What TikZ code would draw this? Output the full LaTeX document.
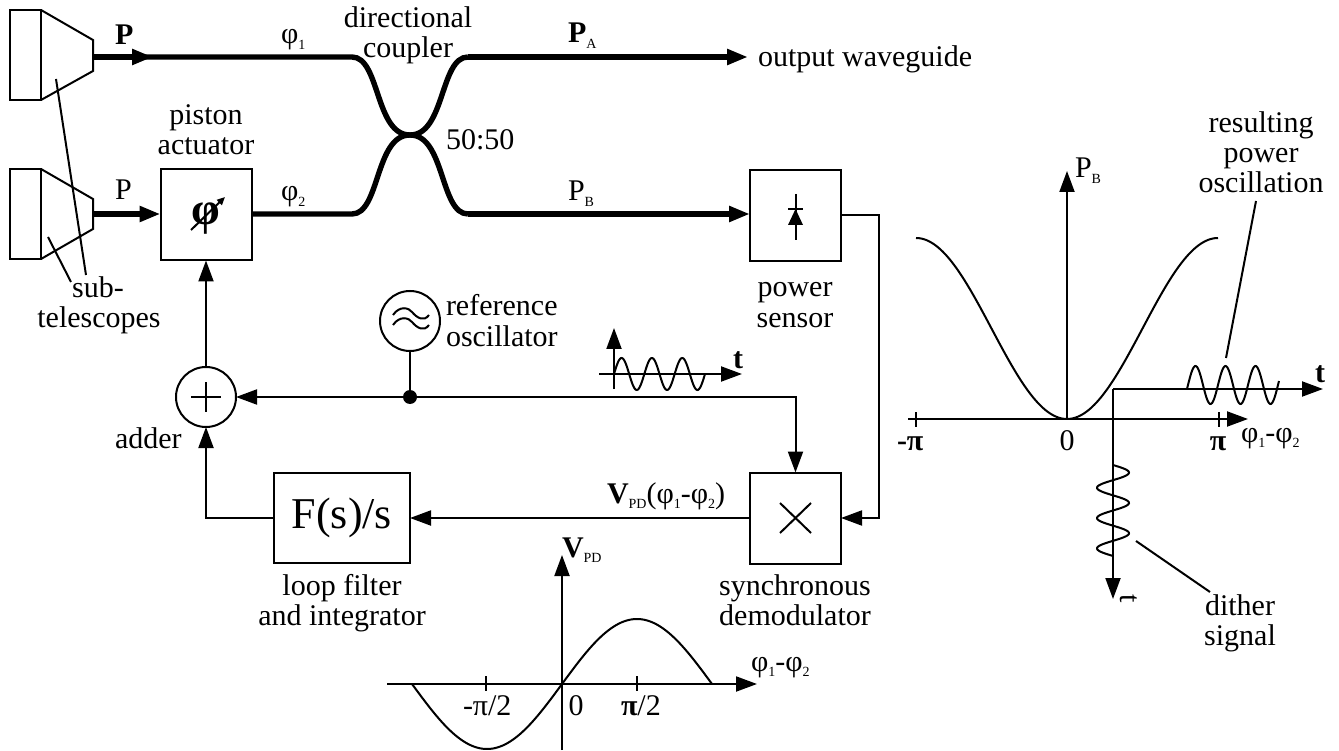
\documentclass[tikz,border=0pt]{standalone}
\usepackage{fontspec}
\setmainfont{Liberation Serif}
\usetikzlibrary{arrows.meta}
\newcommand{\subs}[1]{\raisebox{-5.5pt}{\fontsize{14}{14}\selectfont\mdseries #1}}
\tikzset{
  thinl/.style={line width=2pt},
  thickl/.style={line width=5.4pt},
  arr/.style={-{Triangle[length=21pt,width=15pt]}},
  block/.style={draw,line width=2pt,minimum width=91pt,minimum height=91pt,inner sep=0pt,outer sep=0pt},
  circ/.style={draw,circle,line width=2pt,minimum size=60pt,inner sep=0pt,outer sep=0pt},
  txt/.style={inner sep=0pt,outer sep=0pt,font=\fontsize{30}{30}\selectfont},
  ctxt/.style={txt,align=center,anchor=base},
  ltxt/.style={txt,anchor=base west},
  tele/.style={line width=2pt,line join=miter},
  dotn/.style={circle,fill=black,minimum size=14pt,inner sep=0pt,outer sep=0pt}
}
\begin{document}
\begin{tikzpicture}[x=1pt,y=-1pt,line cap=butt]
\useasboundingbox (0,0) rectangle (1339,751);
% telescopes
\draw[tele] (10,10) rectangle (41,100);
\draw[tele] (41,10) -- (93,40) -- (93,71) -- (41,100);
\draw[tele] (10,169) rectangle (41,259);
\draw[tele] (41,169) -- (93,199) -- (93,229) -- (41,259);
\coordinate (t1) at (93,57);
\coordinate (t2) at (93,214);
\coordinate (t1m) at (153,57);
\coordinate (lu) at (352,57);
\coordinate (ld) at (352,214);
\coordinate (ru) at (468,57);
\coordinate (rd) at (468,214);
\coordinate (mid) at (410,135);
\coordinate (outw) at (748,57);
% blocks
\node[block] (act) at (206,215) {};
\node[block] (sens) at (795.5,215.5) {};
\node[block] (demod) at (795.5,518) {};
\node[block,minimum width=136pt,minimum height=90pt,font=\fontsize{44}{44}\selectfont] (filt) at (342,518) {F(s)/s};
\node[circ] (add) at (206,397) {};
\node[circ] (osc) at (410,321) {};
\node[dotn] (junc) at (410,397) {};
% thick guides
\draw[thickl] (t1) -- (lu) .. controls (380,57) and (375,135) .. (mid) .. controls (445,135) and (440,214) .. (rd);
\draw[thickl,arr] (t1) -- (t1m);
\draw[thickl,arr] (rd) -- (rd-|sens.west);
\draw[thickl] (act.east|-ld) -- (ld) .. controls (380,214) and (375,135) .. (mid) .. controls (445,135) and (440,57) .. (ru);
\draw[thickl,arr] (ru) -- (outw);
\draw[thickl,arr] (t2) -- (t2-|act.west);
% thin connectors
\draw[thinl,arr] (add.north) -- (act.south);
\draw[thinl,arr] (junc) -- (add.east);
\draw[thinl] (osc.south) -- (junc);
\coordinate (dtop) at (demod.north|-junc);
\draw[thinl,arr] (junc) -- (dtop) -- (demod.north);
\coordinate (sr) at (879,215.5);
\coordinate (sb) at (879,518);
\draw[thinl,arr] (sens.east) -- (sr) -- (sb) -- (demod.east);
\draw[thinl,arr] (demod.west) -- (filt.east);
\coordinate (fl) at (206,518);
\draw[thinl,arr] (filt.west) -- (fl) -- (add.south);
% adder plus, cross
\draw[thinl] (191,397) -- (221,397) (206,382) -- (206,412);
\draw[thinl] (780,503) -- (811,533) (780,533) -- (811,503);
% oscillator symbol
\draw[thinl] (393,315) .. controls (400,305) and (409,308) .. (412,312) .. controls (417,318) and (424,322) .. (429,315);
\draw[thinl] (393,325) .. controls (400,315) and (409,318) .. (412,322) .. controls (417,328) and (424,332) .. (429,325);
% photodiode
\draw[thinl] (795.5,194) -- (795.5,240) (788,209) -- (803,209);
\fill (795.5,209) -- (803,225) -- (788,225) -- cycle;
% phi symbol in actuator
\node[inner sep=0pt,font=\fontsize{46}{46}\selectfont\bfseries] (phi) at (206,219) {φ};
\draw[thinl,-{Triangle[length=8pt,width=7pt]}] (191,230) -- (225,197);
% leader lines
\coordinate (l1a) at (56,79); \coordinate (l1b) at (86,275);
\coordinate (l2a) at (48,237); \coordinate (l2b) at (71,282);
\draw[thinl] (l1a) -- (l1b) (l2a) -- (l2b);
% text
\node[ltxt,font=\fontsize{30}{30}\selectfont\bfseries] (pa) at (115,45) {P};
\node[ltxt] (pb) at (115,200) {P};
\node[ltxt] (f1) at (281,44) {φ\subs{1}};
\node[ltxt] (f2) at (281,201) {φ\subs{2}};
\node[ctxt] (dc1) at (408,28) {directional};
\node[ctxt] (dc2) at (408,58) {coupler};
\node[ltxt] (rat) at (446,150) {50:50};
\node[ltxt,font=\fontsize{30}{30}\selectfont\bfseries] (PA) at (568,43) {P\subs{A}};
\node[ltxt] (PB) at (568,201) {P\subs{B}};
\node[ltxt] (ow) at (758,67) {output waveguide};
\node[ctxt] (pi1) at (206,125) {piston};
\node[ctxt] (pi2) at (206,155) {actuator};
\node[ctxt] (su1) at (98,298) {sub-};
\node[ctxt] (su2) at (99,328) {telescopes};
\node[ltxt] (re1) at (446,316) {reference};
\node[ltxt] (re2) at (446,347) {oscillator};
\node[ctxt] (po1) at (795,297) {power};
\node[ctxt] (po2) at (795,328) {sensor};
\node[ltxt] (adr) at (115,448) {adder};
\node[ltxt] (vp) at (607,503) {\textbf{V}\subs{PD}(φ\subs{1}-φ\subs{2})};
\node[ctxt] (lf1) at (342,595) {loop filter};
\node[ctxt] (lf2) at (342,625) {and integrator};
\node[ctxt] (sy1) at (795,595) {synchronous};
\node[ctxt] (sy2) at (795,625) {demodulator};
% small dither plot
\coordinate (sa) at (599,374); \coordinate (sae) at (742,374);
\coordinate (sv) at (614,389); \coordinate (sve) at (614,328);
\draw[thinl,arr] (sa) -- (sae);
\draw[thinl,arr] (sv) -- (sve);
\draw[thinl] plot[domain=0:1080,samples=120,smooth] ({614+\x/1080*91},{374-16*sin(\x)});
\node[ltxt,font=\fontsize{30}{30}\selectfont\bfseries] (st) at (733,369) {t};
% lower plot
\coordinate (la) at (387,684); \coordinate (lae) at (757,684);
\coordinate (lv) at (562,750); \coordinate (lve) at (562,555);
\draw[thinl,arr] (la) -- (lae);
\draw[thinl,arr] (lv) -- (lve);
\draw[thinl] (486,676) -- (486,691) (637,676) -- (637,691);
\draw[thinl] plot[domain=-180:180,samples=120,smooth] ({562+\x/180*150},{684-65*sin(\x)});
\node[ltxt] (vv) at (562,557) {\textbf{V}\subs{PD}};
\node[ltxt] (lf) at (751,671) {φ\subs{1}-φ\subs{2}};
\node[ltxt] (mp) at (463,715) {-π/2};
\node[ctxt] (z1) at (576,715) {0};
\node[ltxt] (pp) at (621,715) {\textbf{π}/2};
% right plot
\coordinate (ra) at (908,419); \coordinate (rae) at (1248,419);
\coordinate (rv) at (1067,419); \coordinate (rve) at (1067,171);
\draw[thinl,arr] (ra) -- (rae);
\draw[thinl,arr] (rv) -- (rve);
\draw[thinl] (916,412) -- (916,427) (1219,412) -- (1219,427);
\draw[thinl] plot[domain=-180:180,samples=160,smooth] ({1067+\x/180*151},{419-181*(1-cos(\x))/2});
\coordinate (rp) at (1113,389); \coordinate (rpe) at (1323,389); \coordinate (rpd) at (1113,599);
\draw[thinl,arr] (rp) -- (rpe);
\draw[thinl,arr] (rp) -- (rpd);
\draw[thinl] plot[domain=-12:1092,samples=130,smooth] ({1188+\x/1080*90},{385-19*sin(\x)});
\draw[thinl] plot[domain=0:1080,samples=130,smooth] ({1113+16*sin(\x)},{465+\x/1080*91});
\coordinate (ld1) at (1256,201); \coordinate (ld2) at (1226,358);
\draw[thinl] (ld1) -- (ld2);
\coordinate (ld3) at (1136,541); \coordinate (ld4) at (1210,592);
\draw[thinl] (ld3) -- (ld4);
\begin{scope}
\clip (1115,590) rectangle (1145,603);
\node[txt,font=\fontsize{30}{30}\selectfont,rotate=-90] (dt) at (1129,599) {t};
\end{scope}
\node[ltxt] (pbb) at (1075,178) {P\subs{B}};
\node[ctxt] (rs1) at (1261,133) {resulting};
\node[ctxt] (rs2) at (1261,163) {power};
\node[ctxt] (rs3) at (1261,193) {oscillation};
\node[ltxt,font=\fontsize{30}{30}\selectfont\bfseries] (rt) at (1315,382) {t};
\node[ltxt,font=\fontsize{30}{30}\selectfont\bfseries] (mpi) at (897,450) {-π};
\node[ctxt] (z2) at (1067,450) {0};
\node[ctxt,font=\fontsize{30}{30}\selectfont\bfseries] (pi) at (1218,450) {π};
\node[ltxt] (dphi) at (1241,442) {φ\subs{1}-φ\subs{2}};
\node[ctxt] (di1) at (1240,615) {dither};
\node[ctxt] (di2) at (1240,645) {signal};
\end{tikzpicture}
\end{document}
